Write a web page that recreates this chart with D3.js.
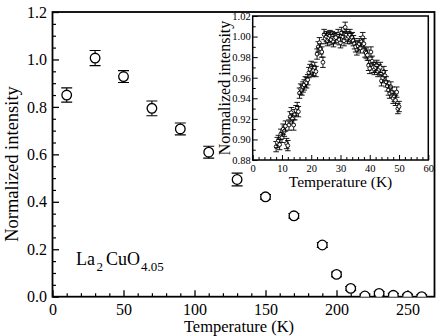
<!DOCTYPE html>
<html><head><meta charset="utf-8">
<script src="https://cdn.jsdelivr.net/npm/d3@7/dist/d3.min.js"></script>
<style>
body{margin:0;background:#fff}
svg{display:block}
</style>
</head><body>
<svg id="c" width="436" height="336"></svg>
<script>
// ---- main panel data ----
const mainT   = [10, 30, 50, 70, 90, 110, 130, 150, 170, 190, 200, 210, 220, 230, 240, 250, 260];
const mainV   = [0.850, 1.006, 0.928, 0.794, 0.707, 0.609, 0.494, 0.421, 0.341, 0.218, 0.094, 0.035, 0.003, 0.014, 0.006, 0.002, 0.0];
const mainErr = [0.030, 0.032, 0.025, 0.031, 0.025, 0.025, 0.027, 0.010, 0.010, 0.010, 0.010, 0.008, 0.008, 0.008, 0.008, 0.008, 0.008];
const mainXTicks = [0, 50, 100, 150, 200, 250];
const mainXMinor = [10,20,30,40,60,70,80,90,110,120,130,140,160,170,180,190,210,220,230,240,260];
const mainYTicks = [0, 0.2, 0.4, 0.6, 0.8, 1.0, 1.2];
const mainYMinor = [0.05,0.1,0.15,0.25,0.3,0.35,0.45,0.5,0.55,0.65,0.7,0.75,0.85,0.9,0.95,1.05,1.1,1.15];

// ---- inset data ----
const insetT = [8.0,8.4,8.8,9.2,9.6,10.0,10.4,10.8,11.2,11.6,12.0,12.4,12.8,13.2,13.6,14.0,14.4,14.8,15.2,15.6,
  16.0,16.4,16.8,17.2,17.6,18.0,18.4,18.8,19.2,19.6,20.0,20.4,20.8,21.2,21.6,22.0,22.4,22.8,23.2,23.6,
  24.0,24.4,24.8,25.2,25.6,26.0,26.4,26.8,27.2,27.6,28.0,28.4,29.2,29.6,30.0,30.4,30.8,31.2,31.6,32.0,
  32.4,32.8,33.2,33.6,34.0,34.4,34.8,35.2,35.6,36.0,36.4,36.8,37.2,37.6,38.0,38.4,38.8,39.2,39.6,40.0,
  40.4,40.8,41.2,41.6,42.0,42.4,42.8,43.2,43.6,44.0,44.4,44.8,45.2,45.6,46.0,46.4,46.8,47.2,47.6,48.0,
  48.4,48.8,49.2,49.6,50.0];
const insetV = [0.893,0.897,0.899,0.895,0.905,0.902,0.910,0.908,0.913,0.896,0.894,0.914,0.922,0.926,0.920,0.914,0.924,0.928,0.931,0.927,
  0.945,0.949,0.948,0.951,0.953,0.956,0.955,0.958,0.965,0.968,0.971,0.966,0.967,0.970,0.966,0.983,0.990,0.994,0.988,0.985,
  0.975,1.002,0.998,1.000,0.996,0.999,1.001,0.997,1.000,0.995,0.998,0.999,1.002,0.997,0.994,1.004,1.000,0.996,1.009,1.002,
  0.998,1.000,1.002,0.998,0.999,0.996,0.993,0.990,0.987,0.991,0.993,0.989,0.995,0.999,0.993,0.985,0.984,0.982,0.972,0.969,
  0.985,0.976,0.970,0.968,0.970,0.972,0.966,0.968,0.970,0.957,0.960,0.966,0.962,0.956,0.952,0.948,0.945,0.951,0.946,0.940,
  0.942,0.938,0.946,0.930,0.932];
const insetErr = [0.005,0.005,0.005,0.005,0.005,0.005,0.005,0.005,0.005,0.005,0.005,0.005,0.005,0.005,0.005,0.005,0.005,0.005,0.005,0.005,
  0.005,0.005,0.005,0.005,0.005,0.005,0.005,0.005,0.005,0.005,0.005,0.005,0.005,0.005,0.005,0.005,0.005,0.005,0.005,0.005,
  0.005,0.005,0.005,0.005,0.005,0.005,0.005,0.005,0.005,0.005,0.005,0.005,0.005,0.005,0.005,0.005,0.005,0.005,0.005,0.005,
  0.005,0.005,0.005,0.005,0.005,0.005,0.005,0.005,0.005,0.005,0.005,0.005,0.005,0.005,0.005,0.005,0.005,0.005,0.005,0.005,
  0.005,0.005,0.005,0.005,0.005,0.005,0.005,0.005,0.005,0.005,0.005,0.005,0.005,0.005,0.005,0.005,0.005,0.005,0.005,0.005,
  0.005,0.005,0.005,0.005,0.005];
const insetXTicks = [0,10,20,30,40,50,60];
const insetXMinor = [2,4,6,8,12,14,16,18,22,24,26,28,32,34,36,38,42,44,46,48,52,54,56,58];
const insetYTicks = [0.88,0.90,0.92,0.94,0.96,0.98,1.00,1.02];
const insetYMinor = [0.89,0.91,0.93,0.95,0.97,0.99,1.01];

const FONT = "'Liberation Serif'";
const svg = d3.select("#c").style("font-family", FONT);

// ---------- main panel ----------
const M = {l:52.5, r:434.5, t:12, b:296.7};
const x = d3.scaleLinear().domain([0, 269]).range([M.l, M.r]);
const y = d3.scaleLinear().domain([0, 1.2]).range([M.b, M.t]);

svg.append("defs").append("clipPath").attr("id","mclip")
  .append("rect").attr("x",M.l).attr("y",M.t).attr("width",M.r-M.l).attr("height",M.b-M.t);

function styleAxis(g, w){
  g.attr("font-family", null).attr("font-size", null);
  g.select(".domain").remove();
  g.selectAll(".tick line").attr("stroke","#000").attr("stroke-width",w);
}
function styleText(g, size){
  g.selectAll("text").style("font-family", FONT).style("font-size", size).attr("fill","#000");
}

svg.append("g").attr("transform",`translate(0,${M.b})`)
  .call(d3.axisBottom(x).tickValues(mainXMinor).tickSize(-3.5).tickFormat(""))
  .call(g=>styleAxis(g,1.2));
svg.append("g").attr("transform",`translate(0,${M.b})`)
  .call(d3.axisBottom(x).tickValues(mainXTicks).tickSize(-6.5).tickPadding(7).tickFormat(d3.format("d")))
  .call(g=>styleAxis(g,1.3))
  .call(g=>styleText(g,"16px"));
svg.append("g").attr("transform",`translate(${M.l},0)`)
  .call(d3.axisLeft(y).tickValues(mainYMinor).tickSize(-3.5).tickFormat(""))
  .call(g=>styleAxis(g,1.2));
svg.append("g").attr("transform",`translate(${M.l},0)`)
  .call(d3.axisLeft(y).tickValues(mainYTicks).tickSize(-6.5).tickPadding(5.5).tickFormat(d3.format(".1f")))
  .call(g=>styleAxis(g,1.3))
  .call(g=>styleText(g,"16px"));

svg.append("rect").attr("x",M.l).attr("y",M.t).attr("width",M.r-M.l).attr("height",M.b-M.t)
  .attr("fill","none").attr("stroke","#000").attr("stroke-width",1.8);

const mainData = mainT.map((t,i)=>({t, v:mainV[i], e:mainErr[i]}));
const mp = svg.append("g").attr("clip-path","url(#mclip)");
const mg = mp.selectAll("g.pt").data(mainData).join("g").attr("class","pt");
mg.append("line").attr("x1",d=>x(d.t)).attr("x2",d=>x(d.t))
  .attr("y1",d=>y(d.v+d.e)).attr("y2",d=>y(d.v-d.e)).attr("stroke","#000").attr("stroke-width",1.1);
mg.append("line").attr("x1",d=>x(d.t)-5.5).attr("x2",d=>x(d.t)+5.5)
  .attr("y1",d=>y(d.v+d.e)).attr("y2",d=>y(d.v+d.e)).attr("stroke","#000").attr("stroke-width",1.1);
mg.append("line").attr("x1",d=>x(d.t)-5.5).attr("x2",d=>x(d.t)+5.5)
  .attr("y1",d=>y(d.v-d.e)).attr("y2",d=>y(d.v-d.e)).attr("stroke","#000").attr("stroke-width",1.1);
mg.append("circle").attr("cx",d=>x(d.t)).attr("cy",d=>y(d.v)).attr("r",4.8)
  .attr("fill","#fff").attr("stroke","#000").attr("stroke-width",1.3);

function addText(xp, yp, size, str, anchor, transform){
  const t = svg.append("text").style("font-family", FONT).style("font-size", size).attr("fill","#000")
    .attr("text-anchor", anchor || "start");
  if (transform) t.attr("transform", transform); else t.attr("x", xp).attr("y", yp);
  if (str) t.text(str);
  return t;
}

addText(239, 332, "16.5px", "Temperature (K)", "middle");
addText(0, 0, "18.5px", "Normalized intensity", "middle", "translate(17.5,164) rotate(-90)");

const lab = addText(76, 265, "18px", null, "start");
lab.append("tspan").text("La");
lab.append("tspan").attr("dx",1.5).attr("dy",6).style("font-size","13px").text("2");
lab.append("tspan").attr("dx",3).attr("dy",-6).text("CuO");
lab.append("tspan").attr("dx",1).attr("dy",6).style("font-size","13px").text("4.05");

// ---------- inset ----------
const I = {l:252.7, r:428.3, t:16, b:160};
const xi = d3.scaleLinear().domain([0,60]).range([I.l, I.r]);
const yi = d3.scaleLinear().domain([0.88,1.02]).range([I.b, I.t]);

svg.append("rect").attr("x",I.l).attr("y",I.t).attr("width",I.r-I.l).attr("height",I.b-I.t)
  .attr("fill","#fff");

svg.append("g").attr("transform",`translate(0,${I.b})`)
  .call(d3.axisBottom(xi).tickValues(insetXMinor).tickSize(-3).tickFormat(""))
  .call(g=>styleAxis(g,1));
svg.append("g").attr("transform",`translate(0,${I.b})`)
  .call(d3.axisBottom(xi).tickValues(insetXTicks).tickSize(-5).tickPadding(4.5).tickFormat(d3.format("d")))
  .call(g=>styleAxis(g,1))
  .call(g=>styleText(g,"10.5px"));
svg.append("g").attr("transform",`translate(${I.l},0)`)
  .call(d3.axisLeft(yi).tickValues(insetYMinor).tickSize(-3).tickFormat(""))
  .call(g=>styleAxis(g,1));
svg.append("g").attr("transform",`translate(${I.l},0)`)
  .call(d3.axisLeft(yi).tickValues(insetYTicks).tickSize(-5).tickPadding(2).tickFormat(d3.format(".2f")))
  .call(g=>styleAxis(g,1))
  .call(g=>styleText(g,"10.5px"));

svg.append("rect").attr("x",I.l).attr("y",I.t).attr("width",I.r-I.l).attr("height",I.b-I.t)
  .attr("fill","none").attr("stroke","#000").attr("stroke-width",1.5);

const insetData = insetT.map((t,i)=>({t, v:insetV[i], e:insetErr[i]}));
const ig = svg.append("g").selectAll("g.ip").data(insetData).join("g").attr("class","ip");
ig.append("line").attr("x1",d=>xi(d.t)).attr("x2",d=>xi(d.t))
  .attr("y1",d=>yi(d.v+d.e)).attr("y2",d=>yi(d.v-d.e)).attr("stroke","#000").attr("stroke-width",0.9);
ig.append("line").attr("x1",d=>xi(d.t)-2.8).attr("x2",d=>xi(d.t)+2.8)
  .attr("y1",d=>yi(d.v+d.e)).attr("y2",d=>yi(d.v+d.e)).attr("stroke","#000").attr("stroke-width",0.9);
ig.append("line").attr("x1",d=>xi(d.t)-2.8).attr("x2",d=>xi(d.t)+2.8)
  .attr("y1",d=>yi(d.v-d.e)).attr("y2",d=>yi(d.v-d.e)).attr("stroke","#000").attr("stroke-width",0.9);
ig.append("circle").attr("cx",d=>xi(d.t)).attr("cy",d=>yi(d.v)).attr("r",1.9)
  .attr("fill","#fff").attr("stroke","#000").attr("stroke-width",0.9);

addText(340.5, 187, "15.5px", "Temperature (K)", "middle");
addText(0, 0, "16px", "Normalized intensity", "middle", `translate(229.5,${(I.t+I.b)/2}) rotate(-90)`);
</script>
</body></html>
